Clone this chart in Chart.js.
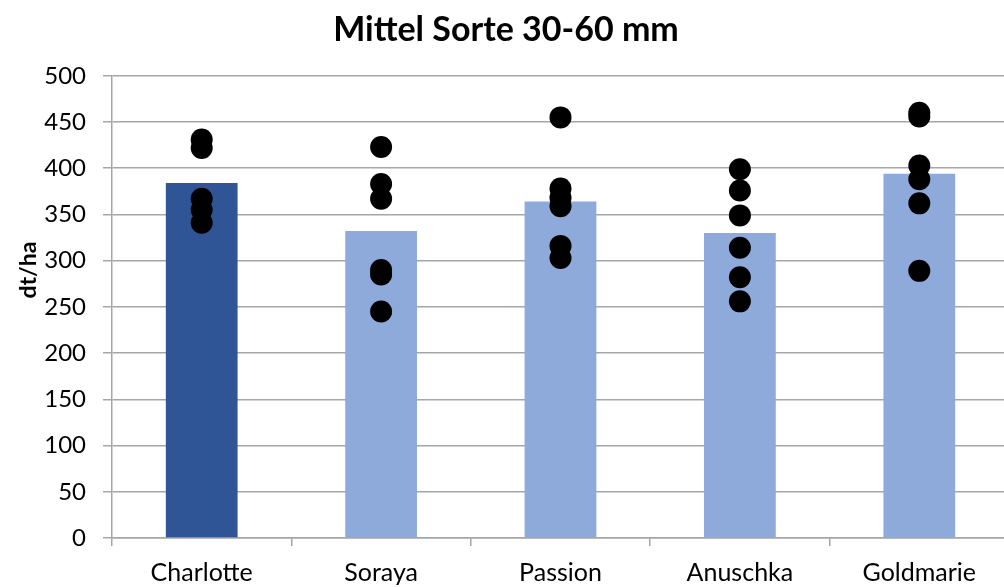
<!DOCTYPE html>
<html>
<head>
<meta charset="utf-8">
<script src="https://cdn.jsdelivr.net/npm/chart.js@4/dist/chart.umd.min.js"></script>
<style>
html,body{margin:0;padding:0;background:#fff;overflow:hidden;}
#wrap{position:absolute;left:0;top:0;width:1020px;height:587px;}
</style>
</head>
<body>
<div id="wrap"><canvas id="c"></canvas></div>
<script>
const categories = ['Charlotte','Soraya','Passion','Anuschka','Goldmarie'];
const means = [384, 332, 364, 330, 394];
const charlotte = [431, 422, 367, 355, 341];
const soraya = [423, 383, 367, 290, 285, 245];
const passion = [455, 378, 368, 359, 316, 303];
const anuschka = [399, 376, 349, 314, 282, 256];
const goldmarie = [460, 456, 403, 388, 362, 289];
const yTicks = [0, 50, 100, 150, 200, 250, 300, 350, 400, 450, 500];
const yTitle = 'dt/ha';

const groups = [charlotte, soraya, passion, anuschka, goldmarie];
const points = [];
groups.forEach((g, i) => g.forEach(v => points.push({x: categories[i], y: v})));

const FONT = "Lato, 'Open Sans', sans-serif";

const yTitlePlugin = {
  id: 'yTitle',
  afterDraw(chart) {
    const ctx = chart.ctx;
    ctx.save();
    ctx.translate(29, 270);
    ctx.rotate(-Math.PI / 2);
    ctx.fillStyle = '#000';
    ctx.font = 'bold 23px ' + FONT;
    ctx.textAlign = 'center';
    ctx.textBaseline = 'middle';
    ctx.fillText(yTitle, 0, 0);
    ctx.restore();
  }
};

new Chart(document.getElementById('c'), {
  data: {
    labels: categories,
    datasets: [
      {
        type: 'line',
        data: points,
        showLine: false,
        pointRadius: 11,
        pointHoverRadius: 11,
        pointBackgroundColor: '#000',
        pointBorderColor: '#000',
        pointBorderWidth: 0,
        order: 0
      },
      {
        type: 'bar',
        data: means,
        backgroundColor: ['#2f5597', '#8eaadb', '#8eaadb', '#8eaadb', '#8eaadb'],
        categoryPercentage: 1,
        barPercentage: 0.4,
        order: 1
      }
    ]
  },
  plugins: [yTitlePlugin],
  options: {
    responsive: true,
    maintainAspectRatio: false,
    animation: false,
    layout: {padding: {left: 0, right: 8, top: 0, bottom: 0}},
    plugins: {
      legend: {display: false},
      tooltip: {enabled: false},
      title: {
        display: true,
        text: 'Mittel Sorte 30-60 mm',
        color: '#000',
        font: {family: FONT, size: 34, weight: 'bold'},
        padding: {top: 10, bottom: 25}
      }
    },
    scales: {
      x: {
        type: 'category',
        offset: true,
        grid: {
          display: true,
          offset: true,
          drawOnChartArea: false,
          drawTicks: true,
          tickLength: 8,
          color: '#a6a6a6',
          lineWidth: 1.5
        },
        border: {display: true, color: '#a6a6a6', width: 1.5},
        ticks: {
          color: '#000',
          font: {family: FONT, size: 25},
          padding: 12,
          maxRotation: 0
        },
        afterFit: s => { s.height = 49; }
      },
      y: {
        min: 0,
        max: 500,
        afterBuildTicks: s => { s.ticks = yTicks.map(v => ({value: v})); },
        grid: {
          color: '#a6a6a6',
          lineWidth: 1.5,
          drawTicks: true,
          tickLength: 9
        },
        border: {display: true, color: '#a6a6a6', width: 1.5},
        ticks: {
          color: '#000',
          font: {family: FONT, size: 24},
          padding: 17
        },
        afterFit: s => { s.width = 112; }
      }
    }
  }
});
</script>
</body>
</html>
